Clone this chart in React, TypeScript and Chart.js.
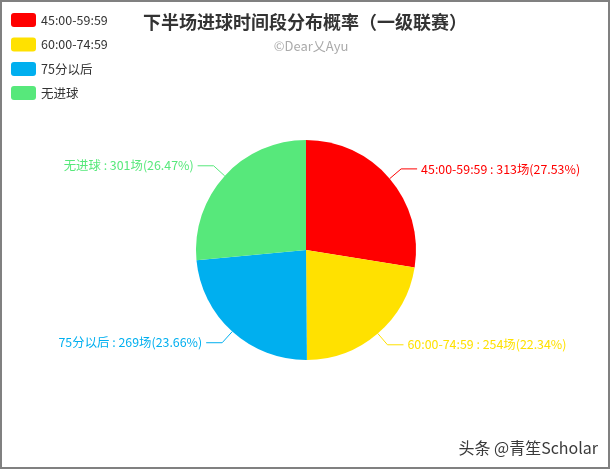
import React, { useEffect, useRef } from "react";
import { Chart, registerables } from "chart.js";

Chart.register(...registerables);

const categories = ["45:00-59:59", "60:00-74:59", "75分以后", "无进球"];
const values = [313, 254, 269, 301];
const colors = ["#FF0000", "#FFE100", "#00AFEF", "#57E87B"];
const titleText = "下半场进球时间段分布概率（一级联赛）";
const subtitleText = "©Dear乂Ayu";
const watermarkText = "头条 @青笙Scholar";

const FONT = "'Noto Sans CJK SC', 'Microsoft YaHei', sans-serif";

const overlay = {
  id: "overlay",
  afterDraw(chart: any) {
    const ctx = chart.ctx as CanvasRenderingContext2D;
    const W = chart.width;
    const H = chart.height;
    ctx.save();
    // title
    ctx.textAlign = "center";
    ctx.textBaseline = "middle";
    ctx.fillStyle = "#333333";
    ctx.font = `bold 18px ${FONT}`;
    ctx.fillText(titleText, 305, 22);
    ctx.fillStyle = "#aaaaaa";
    ctx.font = `13px ${FONT}`;
    ctx.fillText(subtitleText, 311, 46);

    // legend
    const legendY = [20, 44.5, 69, 93];
    categories.forEach((c, i) => {
      const y = legendY[i];
      ctx.fillStyle = colors[i];
      ctx.beginPath();
      (ctx as any).roundRect(11, y - 7, 25, 14, 3);
      ctx.fill();
      ctx.fillStyle = "#333333";
      ctx.font = `12.5px ${FONT}`;
      ctx.textAlign = "left";
      ctx.fillText(c, 41, y);
    });

    // slice labels
    const meta = chart.getDatasetMeta(0);
    const total = values.reduce((a, b) => a + b, 0);
    meta.data.forEach((arc: any, i: number) => {
      const p = arc.getProps(["x", "y", "startAngle", "endAngle", "outerRadius"], true);
      const mid = (p.startAngle + p.endAngle) / 2;
      const r = p.outerRadius;
      const c = Math.cos(mid);
      const s = Math.sin(mid);
      const x0 = p.x + r * c;
      const y0 = p.y + r * s;
      const x1 = p.x + (r + 15) * c;
      const y1 = p.y + (r + 15) * s;
      const dir = c >= 0 ? 1 : -1;
      const x2 = x1 + dir * 16;
      ctx.strokeStyle = colors[i];
      ctx.lineWidth = 1;
      ctx.beginPath();
      ctx.moveTo(x0, y0);
      ctx.lineTo(x1, y1);
      ctx.lineTo(x2, y1);
      ctx.stroke();
      const pct = ((values[i] / total) * 100).toFixed(2);
      const txt = `${categories[i]} : ${values[i]}场(${pct}%)`;
      ctx.fillStyle = colors[i];
      ctx.font = `12.4px ${FONT}`;
      ctx.textAlign = dir > 0 ? "left" : "right";
      ctx.textBaseline = "middle";
      ctx.fillText(txt, x2 + dir * 4, y1);
    });

    // watermark
    ctx.textAlign = "right";
    ctx.fillStyle = "#3a3a3a";
    ctx.font = `16px ${FONT}`;
    ctx.fillText(watermarkText, 598, 448);

    // border
    ctx.fillStyle = "#808080";
    ctx.fillRect(0, 0, W - 1, 2);
    ctx.fillRect(0, 0, 2, H);
    ctx.fillRect(608, 0, 2, H);
    ctx.fillRect(0, 467, W - 1, 2);
    ctx.restore();
  },
};

export default function App() {
  const ref = useRef<HTMLCanvasElement>(null);
  useEffect(() => {
    document.body.style.margin = "0";
    const chart = new Chart(ref.current!, {
      type: "pie",
      data: {
        labels: categories,
        datasets: [
          {
            data: values,
            backgroundColor: colors,
            borderWidth: 0,
          },
        ],
      },
      options: {
        animation: false,
        responsive: false,
        devicePixelRatio: 1,
        layout: { padding: { left: 196, right: 195, top: 140, bottom: 109 } },
        plugins: {
          legend: { display: false },
          tooltip: { enabled: false },
          title: { display: false },
        },
      },
      plugins: [overlay],
    });
    return () => chart.destroy();
  }, []);
  return (
    <div style={{ width: 611, height: 469, background: "#fff" }}>
      <canvas ref={ref} width={611} height={469} style={{ display: "block" }} />
    </div>
  );
}
